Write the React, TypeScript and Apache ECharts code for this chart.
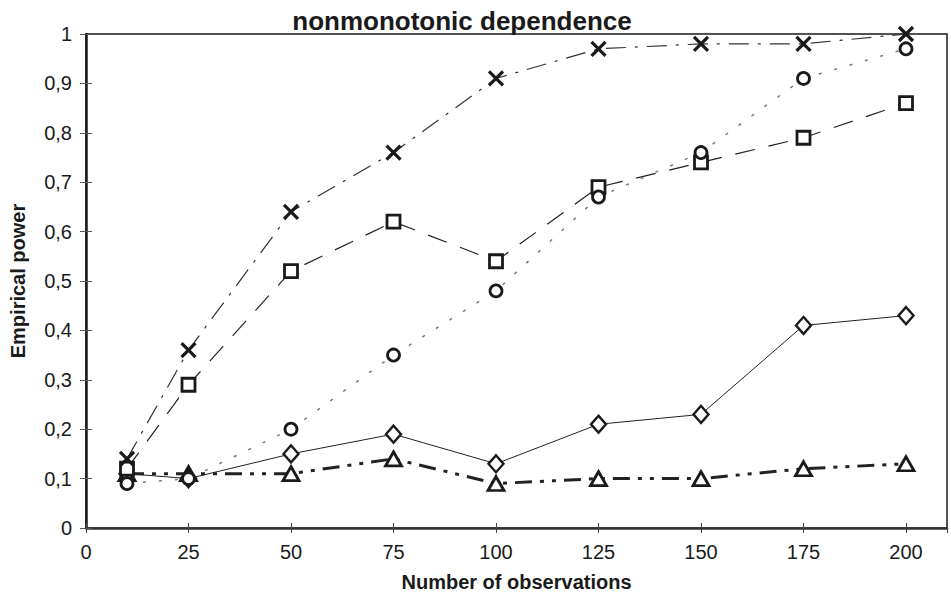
import React, { useEffect, useRef } from "react";
import * as echarts from "echarts";

const titleText = "nonmonotonic dependence";
const xAxisTitle = "Number of observations";
const yAxisTitle = "Empirical power";

const observations = [10, 25, 50, 75, 100, 125, 150, 175, 200];
const seriesCross = [0.14, 0.36, 0.64, 0.76, 0.91, 0.97, 0.98, 0.98, 1.0];
const seriesCircle = [0.09, 0.1, 0.2, 0.35, 0.48, 0.67, 0.76, 0.91, 0.97];
const seriesSquare = [0.12, 0.29, 0.52, 0.62, 0.54, 0.69, 0.74, 0.79, 0.86];
const seriesDiamond = [0.11, 0.1, 0.15, 0.19, 0.13, 0.21, 0.23, 0.41, 0.43];
const seriesTriangle = [0.11, 0.11, 0.11, 0.14, 0.09, 0.1, 0.1, 0.12, 0.13];

const FONT = "'Liberation Sans', Arial, Helvetica, sans-serif";
const INK = "#1a1a1a";

const pairs = (ys: number[]) => observations.map((x, i) => [x, ys[i]]);

export default function App() {
  const ref = useRef<HTMLDivElement>(null);

  useEffect(() => {
    if (!ref.current) return;
    const chart = echarts.init(ref.current, undefined, { renderer: "svg" });

    const markerStyle = {
      color: "#ffffff",
      borderColor: INK,
      borderWidth: 2.5,
    };

    const option: any = {
      animation: false,
      backgroundColor: "#ffffff",
      title: {
        text: titleText,
        left: 457,
        top: 3,
        textAlign: "center",
        textStyle: {
          fontFamily: FONT,
          fontSize: 26,
          fontWeight: "bold",
          color: INK,
        },
      },
      grid: {
        left: 85,
        right: 4,
        top: 34,
        bottom: 64,
        show: true,
        borderColor: INK,
        borderWidth: 1.5,
        backgroundColor: "transparent",
      },
      xAxis: [
        {
          type: "value",
          min: 0,
          max: 210,
          interval: 25,
          position: "bottom",
          name: xAxisTitle,
          nameLocation: "middle",
          nameGap: 44,
          nameTextStyle: {
            fontFamily: FONT,
            fontSize: 20,
            fontWeight: "bold",
            color: INK,
          },
          splitLine: { show: false },
          axisLine: { show: true, lineStyle: { color: "#333", width: 2.5 } },
          axisTick: { show: true, length: 5, lineStyle: { color: "#444", width: 1 } },
          axisLabel: {
            margin: 14,
            fontFamily: FONT,
            fontSize: 20,
            color: INK,
            formatter: (v: number) => (v % 25 === 0 && v <= 200 ? String(v) : ""),
          },
        },
        {
          type: "value",
          min: 0,
          max: 210,
          interval: 25,
          position: "bottom",
          splitLine: { show: false },
          axisLine: { show: false },
          axisTick: { show: true, inside: true, length: 5, lineStyle: { color: "#444", width: 1 } },
          axisLabel: { show: false },
        },
      ],
      yAxis: [
        {
          type: "value",
          min: 0,
          max: 1,
          interval: 0.1,
          position: "left",
          name: yAxisTitle,
          nameLocation: "middle",
          nameGap: 58,
          nameTextStyle: {
            fontFamily: FONT,
            fontSize: 20,
            fontWeight: "bold",
            color: INK,
          },
          splitLine: { show: false },
          axisLine: { show: true, lineStyle: { color: INK, width: 2.5 } },
          axisTick: { show: true, length: 6, lineStyle: { color: "#555", width: 1 } },
          axisLabel: {
            margin: 14,
            fontFamily: FONT,
            fontSize: 20,
            color: INK,
            formatter: (v: number) => {
              const r = Math.round(v * 10) / 10;
              if (r === 0) return "0";
              if (r === 1) return "1";
              return r.toFixed(1).replace(".", ",");
            },
          },
        },
        {
          type: "value",
          min: 0,
          max: 1,
          interval: 0.1,
          position: "left",
          splitLine: { show: false },
          axisLine: { show: false },
          axisTick: { show: true, inside: true, length: 6, lineStyle: { color: "#555", width: 1 } },
          axisLabel: { show: false },
        },
      ],
      series: [
        {
          type: "line",
          name: "triangle",
          data: pairs(seriesTriangle),
          clip: false,
          symbol: "triangle",
          symbolSize: [16, 14],
          itemStyle: { ...markerStyle, borderWidth: 2.8 },
          lineStyle: { color: "#222", width: 3, type: [17, 8, 4, 8, 4, 8] },
          z: 3,
        },
        {
          type: "line",
          name: "diamond",
          data: pairs(seriesDiamond),
          clip: false,
          symbol: "diamond",
          symbolSize: [15, 17],
          itemStyle: { ...markerStyle, borderWidth: 2.4 },
          lineStyle: { color: "#222", width: 1, type: "solid" },
          z: 4,
        },
        {
          type: "line",
          name: "square",
          data: pairs(seriesSquare),
          clip: false,
          symbol: "rect",
          symbolSize: 13,
          itemStyle: { ...markerStyle, borderWidth: 2.8 },
          lineStyle: { color: "#222", width: 1.2, type: [20, 14] },
          z: 5,
        },
        {
          type: "line",
          name: "circle",
          data: pairs(seriesCircle),
          clip: false,
          symbol: "circle",
          symbolSize: 12,
          itemStyle: { ...markerStyle, borderWidth: 2.8 },
          lineStyle: { color: "#777", width: 1.5, type: [3, 13] },
          z: 6,
        },
        {
          type: "line",
          name: "cross",
          data: pairs(seriesCross),
          clip: false,
          symbol: "path://M0,0 L10,10 M10,0 L0,10",
          symbolSize: 14,
          itemStyle: { color: "none", borderColor: INK, borderWidth: 3.2 },
          lineStyle: { color: "#333", width: 1.2, type: [20, 9, 3, 9] },
          z: 7,
        },
      ],
    };

    chart.setOption(option);
    return () => chart.dispose();
  }, []);

  return (
    <div
      ref={ref}
      style={{ position: "fixed", left: 0, top: 0, width: 951, height: 597, background: "#fff" }}
    />
  );
}
